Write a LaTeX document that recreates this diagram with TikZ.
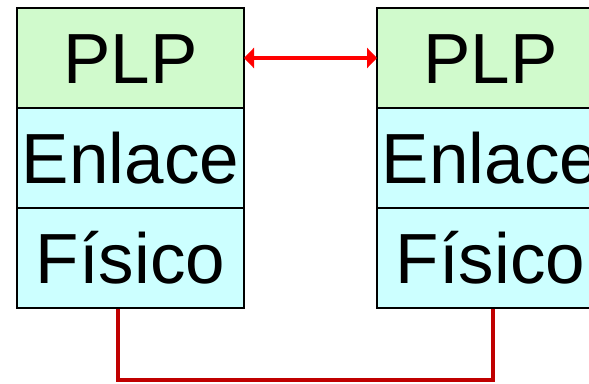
\documentclass[tikz,border=0pt]{standalone}
\usepackage{fontspec}
\setmainfont{Liberation Sans}
\usetikzlibrary{positioning,calc,arrows.meta}
\definecolor{plpgreen}{RGB}{208,250,204}
\definecolor{layercyan}{RGB}{204,255,255}
\definecolor{cablered}{RGB}{192,0,0}

\begin{document}
\begin{tikzpicture}[x=1pt,y=-1pt,
    layer/.style={draw=black, line width=1.5pt, minimum width=227pt,
        minimum height=100pt, inner sep=0pt, outer sep=0pt,
        font=\fontsize{71}{71}\selectfont, text height=51pt, text depth=0pt},
    toplayer/.style={layer, fill=plpgreen},
    lowlayer/.style={layer, fill=layercyan},
    peer/.style={red, line width=4pt,
        {Triangle[length=10pt,width=20pt]}-{Triangle[length=10pt,width=20pt]}},
    cable/.style={cablered, line width=4pt}]
    \useasboundingbox (0,0) rectangle (589,383);
    \clip (0,0) rectangle (589,383);

    % Left stack
    \node[toplayer] (plpA) at (130.5,58) {PLP};
    \node[lowlayer, below=0pt of plpA] (enlA) {Enlace};
    \node[lowlayer, below=0pt of enlA] (fisA) {Físico};

    % Right stack
    \node[toplayer] (plpB) at (490.5,58) {PLP};
    \node[lowlayer, below=0pt of plpB] (enlB) {Enlace};
    \node[lowlayer, below=0pt of enlB] (fisB) {Físico};

    % Peer link
    \draw[peer] (plpA.east) -- (plpB.west);

    % Physical medium
    \coordinate (cableA) at ($(fisA.south)+(-12.5,1)$);
    \coordinate (cableB) at ($(fisB.south)+(2,1)$);
    \draw[cable] (cableA) -- ++(0,71) -| (cableB);
\end{tikzpicture}
\end{document}
